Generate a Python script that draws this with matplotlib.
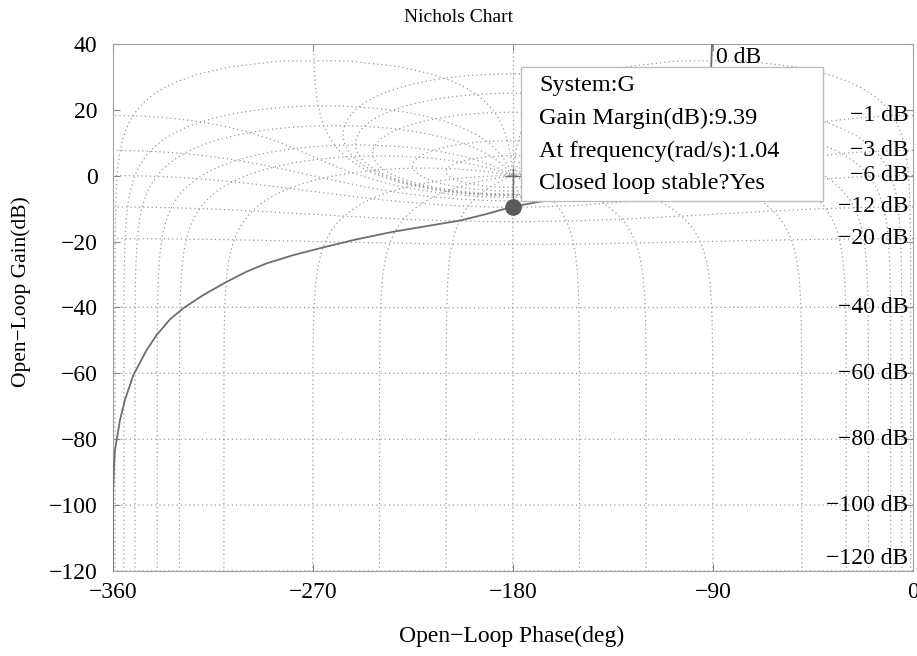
import numpy as np
import matplotlib
matplotlib.use("Agg")
import matplotlib.pyplot as plt
from matplotlib.patches import Rectangle

plt.rcParams["font.family"] = ["Liberation Serif", "DejaVu Serif"]

# open-loop response (phase in deg, gain in dB)
ol_phase = [-90.4, -90.8, -92.5, -96, -102, -112, -127, -147, -168, -180,
            -191.7, -203.7, -218.7, -233.7, -250.2, -266.7, -278.7, -290.7,
            -299.7, -308.7, -319.2, -328.2, -334.2, -340.2, -344.7, -350.7,
            -354.5, -356.7, -358.2, -359.0, -359.4, -359.85, -360]
ol_gain = [40, 33, 24, 15, 7, 1, -3, -6.2, -7.9, -9.39,
           -11.6, -13.6, -15.3, -17.0, -19.3, -22.0, -24.1, -26.6,
           -29.1, -32.2, -36.2, -40.2, -43.6, -48.3, -52.9, -60.5,
           -68.1, -74.1, -80.2, -83.5, -88.3, -96.4, -120]

# gain margin point
gm_phase = -180
gm_gain = -9.39

# closed-loop grid values
cl_gains = [6, 3, 1, 0.5, 0.25, 0, -1, -3, -6, -12, -20, -40, -60, -80, -100, -120]
cl_phases = [-1, -5, -10, -20, -30, -50, -90, -120, -150, -180,
             -210, -240, -270, -310, -330, -340, -350, -355, -359]
label_gains = [0, -1, -3, -6, -12, -20, -40, -60, -80, -100, -120]

info_lines = ["System:G", "Gain Margin(dB):9.39",
              "At frequency(rad/s):1.04", "Closed loop stable?Yes"]

fig = plt.figure(figsize=(9.17, 6.56), dpi=100)
ax = fig.add_axes([0.1229, 0.1296, 0.8727, 0.8034])

grid_kw = dict(color="#999999", lw=0.9, ls=(0, (1, 2.4)), zorder=1)

# M contours (constant closed-loop gain)
for gdb in cl_gains:
    m = 10 ** (gdb / 20)
    if gdb == 0:
        y = np.concatenate([-np.logspace(4, -4, 800), [0], np.logspace(-4, 4, 800)])
        L = -0.5 + 1j * y
        ph = np.degrees(np.angle(-L)) - 180
    else:
        c = m ** 2 / (1 - m ** 2)
        r = m / abs(1 - m ** 2)
        t = np.linspace(0, 2 * np.pi, 3000)
        if m < 1:
            L = c + r * np.exp(-1j * t)
            ph = np.degrees(np.unwrap(np.angle(L)))
        else:
            L = c + r * np.exp(1j * t)
            ph = np.degrees(np.angle(-L)) - 180
    ax.plot(ph, 20 * np.log10(np.abs(L)), **grid_kw)

# N contours (constant closed-loop phase)
tt = np.logspace(-8, 8, 4000)
for phi in cl_phases:
    T = tt * np.exp(1j * np.radians(phi))
    L = T / (1 - T)
    ph = phi - np.degrees(np.unwrap(np.angle(1 - T)))
    ax.plot(ph, 20 * np.log10(np.abs(L)), **grid_kw)
# zero closed-loop phase branch above 0 dB
ax.plot([-180, -180], [0, 45], **grid_kw)

# labels of the M contours at the right edge
for gdb in label_gains:
    if gdb == 0:
        ax.text(-88.5, 36, "0 dB", fontsize=17, ha="left", va="center", zorder=2)
        continue
    m = 10 ** (gdb / 20)
    yl = max(20 * np.log10(m / (1 - m)), -116.3)
    ax.text(-2.0, yl, "\u2212%g dB" % abs(gdb), fontsize=17, ha="right",
            va="center", zorder=2)

# open-loop curve
ax.plot(ol_phase, ol_gain, color="#6e6e6e", lw=1.3, zorder=3)
ax.plot([gm_phase, gm_phase], [0, gm_gain], color="#6e6e6e", lw=1.0, zorder=3)
ax.plot(-180, 0, marker="+", ms=12, mew=1.0, color="#6e6e6e", zorder=3)
ax.plot(gm_phase, gm_gain, "o", ms=11, color="#5a5a5a", zorder=4)

# data tip box
ax.add_patch(Rectangle((0.510, 0.7021), 0.3775, 0.2543, transform=ax.transAxes,
                       facecolor="white", edgecolor="#bdbdbd", lw=1.0, zorder=5))
for i, s in enumerate(info_lines):
    ax.text(0.5327, 0.9203 - i * 0.0620, s, transform=ax.transAxes,
            fontsize=17.5, ha="left", va="center", zorder=6)

ax.set_xlim(-360, 0)
ax.set_ylim(-120, 40)
ax.set_xticks([-360, -270, -180, -90, 0])
ax.set_yticks([40, 20, 0, -20, -40, -60, -80, -100, -120])
ax.tick_params(direction="in", top=True, right=True, length=5, color="#8a8a8a",
               labelsize=17, pad=8)
ax.tick_params(axis="y", pad=11)
for sp in ax.spines.values():
    sp.set_color("#a0a0a0")

fig.text(0.5, 1 - 17 / 656, "Nichols Chart", fontsize=14, ha="center", va="center")
ax.set_xlabel("Open\u2212Loop Phase(deg)", fontsize=17, va="center")
ax.xaxis.set_label_coords(0.499, -0.125)
ax.set_ylabel("Open\u2212Loop Gain(dB)", fontsize=15.5, va="center")
ax.yaxis.set_label_coords(-0.115, 0.53)

fig.savefig("out.png", dpi=100)
